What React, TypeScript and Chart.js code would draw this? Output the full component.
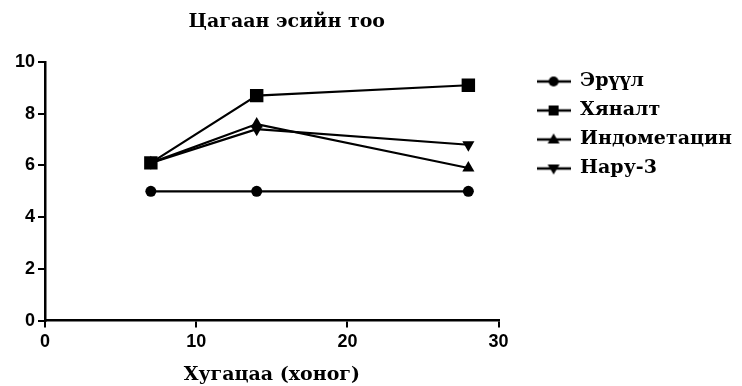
import React, { useEffect, useRef } from 'react';
import { Chart, registerables } from 'chart.js';

Chart.register(...registerables);

const TITLE = 'Цагаан эсийн тоо';
const X_TITLE = 'Хугацаа (хоног)';
const DAYS = [7, 14, 28];
const SERIES_NAMES = ['Эрүүл', 'Хяналт', 'Индометацин', 'Нару-3'];
const HEALTHY = [5.0, 5.0, 5.0];
const CONTROL = [6.1, 8.7, 9.1];
const INDOMETHACIN = [6.1, 7.6, 5.9];
const NARU3 = [6.1, 7.4, 6.8];
const X_MIN = 0;
const X_MAX = 30;
const X_STEP = 10;
const Y_MIN = 0;
const Y_MAX = 10;
const Y_STEP = 2;

const SERIES_VALUES = [HEALTHY, CONTROL, INDOMETHACIN, NARU3];
const POINT_STYLES = ['circle', 'rect', 'triangle', 'triangle'];
const POINT_ROTATIONS = [0, 0, 0, 180];
const POINT_RADII = [5.5, 9.5, 7, 7];

const SERIF = '"DejaVu Serif", "Liberation Serif", serif';
const SANS = '"Liberation Sans", Arial, sans-serif';

function makeLegendIcon(kind: number): HTMLCanvasElement {
  const c = document.createElement('canvas');
  c.width = 34;
  c.height = 14;
  const g = c.getContext('2d')!;
  g.fillStyle = '#000';
  g.strokeStyle = '#000';
  g.lineWidth = 2.5;
  g.beginPath();
  g.moveTo(0, 7);
  g.lineTo(34, 7);
  g.stroke();
  const cx = 17, cy = 7;
  g.beginPath();
  if (kind === 0) {
    g.arc(cx, cy, 5, 0, Math.PI * 2);
  } else if (kind === 1) {
    g.rect(cx - 5, cy - 5, 10, 10);
  } else if (kind === 2) {
    g.moveTo(cx, cy - 6);
    g.lineTo(cx + 6, cy + 4);
    g.lineTo(cx - 6, cy + 4);
    g.closePath();
  } else {
    g.moveTo(cx, cy + 6);
    g.lineTo(cx + 6, cy - 4);
    g.lineTo(cx - 6, cy - 4);
    g.closePath();
  }
  g.fill();
  return c;
}

const titlePlugin = {
  id: 'customTitle',
  afterDraw(chart: any) {
    const ctx = chart.ctx;
    ctx.save();
    ctx.font = `bold 19px ${SERIF}`;
    ctx.fillStyle = '#000';
    ctx.textAlign = 'center';
    ctx.textBaseline = 'middle';
    const ca = chart.chartArea;
    ctx.fillText(TITLE, (ca.left + ca.right) / 2 + 15, 22);
    ctx.restore();
  },
};

export default function App() {
  const ref = useRef<HTMLCanvasElement | null>(null);

  useEffect(() => {
    if (!ref.current) return;
    const icons = [0, 1, 2, 3].map(makeLegendIcon);
    const datasets = SERIES_NAMES.map((name, i) => ({
      label: name,
      data: DAYS.map((d, j) => ({ x: d, y: SERIES_VALUES[i][j] })),
      xAxisID: 'x',
      yAxisID: 'y',
      borderColor: '#000',
      backgroundColor: '#000',
      borderWidth: 2.2,
      pointStyle: POINT_STYLES[i] as any,
      rotation: POINT_ROTATIONS[i],
      pointRadius: POINT_RADII[i],
      pointBorderWidth: 0,
      pointBackgroundColor: '#000',
      showLine: true,
      tension: 0,
    }));

    const chart = new Chart(ref.current, {
      type: 'scatter',
      data: { datasets },
      plugins: [titlePlugin],
      options: {
        animation: false,
        responsive: true,
        maintainAspectRatio: false,
        layout: { padding: { top: 62, left: 12, right: 0, bottom: 0 } },
        plugins: {
          title: { display: false },
          tooltip: { enabled: false },
          legend: {
            display: true,
            position: 'right',
            align: 'start',
            maxWidth: 300,
            labels: {
              usePointStyle: true,
              pointStyleWidth: 34,
              padding: 10,
              color: '#000',
              font: { family: SERIF, weight: 'bold', size: 19 },
              generateLabels: (ch: any) => {
                const base = (Chart.defaults.plugins.legend.labels as any).generateLabels(ch);
                return base.map((item: any, i: number) => ({ ...item, pointStyle: icons[i], rotation: 0 }));
              },
            },
          },
        },
        scales: {
          x: {
            type: 'linear',
            min: X_MIN,
            max: X_MAX,
            ticks: {
              stepSize: X_STEP,
              color: '#000',
              font: { family: SANS, weight: 'bold', size: 18 },
              padding: 4,
            },
            grid: { drawOnChartArea: false, drawTicks: true, tickLength: 7, color: '#000', lineWidth: 2 },
            border: { color: '#000', width: 2.5 },
            title: {
              display: true,
              text: X_TITLE,
              color: '#000',
              font: { family: SERIF, weight: 'bold', size: 19 },
              padding: { top: 6, bottom: 0 },
            },
          },
          y: {
            type: 'linear',
            position: 'left',
            min: Y_MIN,
            max: Y_MAX,
            ticks: {
              stepSize: Y_STEP,
              color: '#000',
              font: { family: SANS, weight: 'bold', size: 18 },
              padding: 3,
            },
            grid: { drawOnChartArea: false, drawTicks: true, tickLength: 7, color: '#000', lineWidth: 2 },
            border: { color: '#000', width: 2.5 },
          },
          gap: {
            type: 'linear',
            position: 'right',
            display: true,
            grid: { display: false, drawTicks: false },
            ticks: { display: false },
            border: { display: false },
            afterFit: (s: any) => { s.width = 28; },
          },
        },
      } as any,
    });
    return () => chart.destroy();
  }, []);

  return (
    <div style={{ position: 'fixed', left: 0, top: 0, width: 742, height: 386, background: '#fff' }}>
      <canvas ref={ref} />
    </div>
  );
}
